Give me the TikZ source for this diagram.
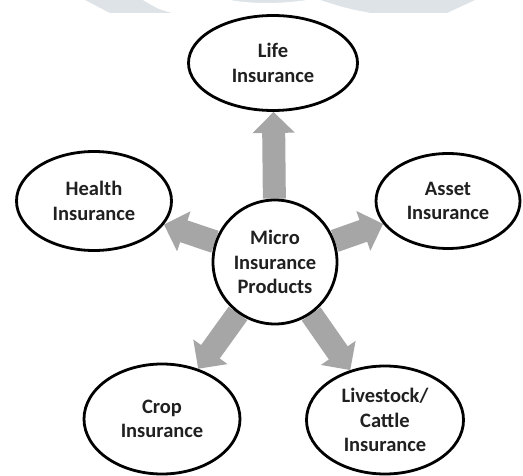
\documentclass[tikz,border=0pt]{standalone}
\usepackage{fontspec}
\setmainfont{Carlito}
\usetikzlibrary{shapes.geometric,arrows.meta,backgrounds}
\definecolor{arrowgray}{HTML}{A6A6A6}
\definecolor{wmark}{HTML}{DDE3E7}
\definecolor{txt}{HTML}{202020}
\begin{document}
\begin{tikzpicture}[x=1pt,y=-1pt,
  bubble/.style={ellipse,draw=black,line width=2.8pt,fill=white,align=center,
    inner sep=0pt,text=txt,font=\fontsize{20.5}{24.5}\selectfont\bfseries},
  flow/.style={draw=arrowgray,line width=23pt,
    -{Triangle[width=41pt,length=21pt,fill=arrowgray]}}]
\useasboundingbox (0,0) rectangle (523,476);
% faint watermark at the top edge
\fill[wmark] (85,0) -- (475,0) -- (447,13) -- (110,13) -- cycle;
\fill[white] (143,0) .. controls (158,9) .. (172,13) -- (370,13)
  .. controls (345,8) .. (320,0) -- (307,0) .. controls (280,4) and (252,4) .. (230,0) -- cycle;
% nodes
\node[bubble,minimum width=169pt,minimum height=95pt] (life) at (273,63) {Life\\Insurance};
\node[bubble,minimum width=155pt,minimum height=99pt] (health) at (94,201) {Health\\Insurance};
\node[bubble,minimum width=144pt,minimum height=95pt] (asset) at (448,201) {Asset\\Insurance};
\node[bubble,circle,minimum size=124pt] (micro) at (275,262) {Micro\\Insurance\\Products};
\node[bubble,minimum width=156pt,minimum height=110pt] (crop) at (162,419) {Crop\\Insurance};
\node[bubble,minimum width=157pt,minimum height=108pt] (live) at (385,420) {Livestock/\\Cattle\\Insurance};
% arrows
\begin{scope}[on background layer]
\draw[flow] (micro) -- (life);
\draw[flow] (micro) -- (health);
\draw[flow] (micro) -- (asset);
\draw[flow] (micro) -- (crop);
\draw[flow] (micro) -- (live);
\end{scope}
\end{tikzpicture}
\end{document}
